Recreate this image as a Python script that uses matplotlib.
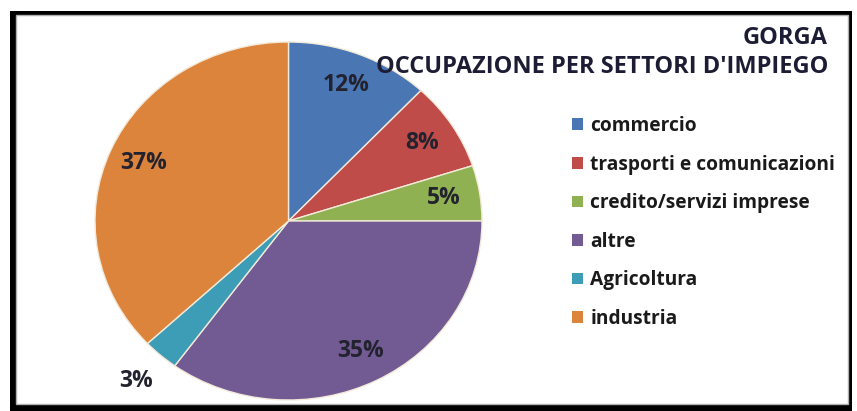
import matplotlib
matplotlib.use('Agg')
import matplotlib.pyplot as plt
from matplotlib.patches import Rectangle
import numpy as np

categories = ['commercio', 'trasporti e comunicazioni', 'credito/servizi imprese',
              'altre', 'Agricoltura', 'industria']
values = [12, 8, 5, 35, 3, 37]
colors = ['#4a76b4', '#bf4c49', '#90b152', '#725a93', '#3d9db6', '#dd843c']
title_line1 = 'GORGA'
title_line2 = "OCCUPAZIONE PER SETTORI D'IMPIEGO"

W, H = 857, 411
fig = plt.figure(figsize=(W / 100, H / 100), dpi=100)


def fx(px):
    return px / W


def fy(py):
    return 1 - py / H


# frame (black border with shadow, thin grey inner line)
fig.add_artist(Rectangle((fx(10), fy(411)), fx(852) - fx(10), fy(11) - fy(411),
                         transform=fig.transFigure, facecolor='black',
                         edgecolor='none', zorder=-3))
fig.add_artist(Rectangle((fx(16), fy(404)), fx(848) - fx(16), fy(15) - fy(404),
                         transform=fig.transFigure, facecolor='white',
                         edgecolor='#b0b0b0', linewidth=1.0, zorder=-2))

# pie axes, ellipse centred at (288.5, 221) px with radii 193.5 x 179 px
cx, cy, rx, ry = 288.5, 221, 193.5, 179
ax = fig.add_axes([0, 0, 1, 1])
ax.patch.set_visible(False)
wedges, _ = ax.pie(values, colors=colors, startangle=90, counterclock=False,
                   radius=1, wedgeprops=dict(edgecolor='#f3ead9', linewidth=1.0))
ax.set_xlim(-cx / rx, (W - cx) / rx)
ax.set_ylim((cy - H) / ry, cy / ry)
ax.set_aspect('auto')
ax.axis('off')

total = float(sum(values))
cum = 0.0
for v in values:
    a0 = 90 - 360 * cum / total
    a1 = 90 - 360 * (cum + v) / total
    cum += v
    mid = np.deg2rad((a0 + a1) / 2)
    r = 1.19 if v < 4 else 0.815
    ax.text(r * np.cos(mid), r * np.sin(mid), f'{v}%', ha='center', va='center',
            fontsize=16.5, fontweight='bold', color='#23222f', family='Open Sans')

fig.text(fx(828), fy(38), title_line1, ha='right', va='center', fontsize=17,
         fontweight='bold', color='#1c1c34', family='Open Sans')
fig.text(fx(828), fy(67), title_line2, ha='right', va='center', fontsize=17,
         fontweight='bold', color='#1c1c34', family='Open Sans')

leg = fig.legend(wedges, categories, loc='upper left',
                 bbox_to_anchor=(fx(572), fy(116)), frameon=False,
                 prop=dict(family='Open Sans', weight='bold', size=13.8),
                 labelcolor='#1a1a1a', handlelength=0.55, handleheight=0.55,
                 handletextpad=0.4, labelspacing=0.97, borderaxespad=0, borderpad=0)
for h in leg.legend_handles:
    h.set_edgecolor('none')

fig.savefig('out.png', dpi=100)
